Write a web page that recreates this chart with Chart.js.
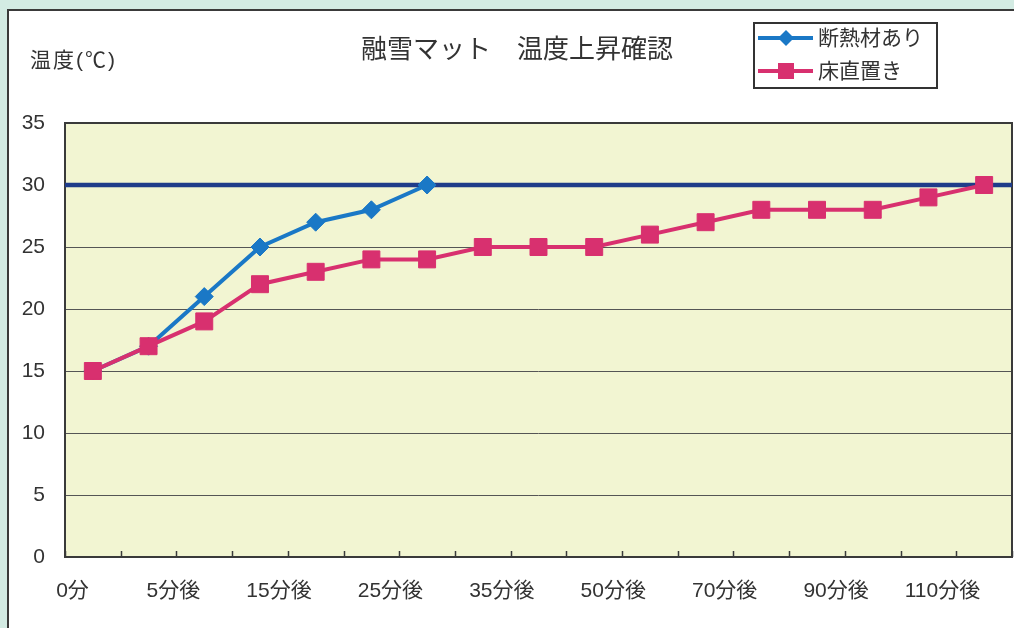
<!DOCTYPE html>
<html><head><meta charset="utf-8">
<script src="https://cdn.jsdelivr.net/npm/chart.js@4.4.0/dist/chart.umd.min.js"></script>
<style>html,body{margin:0;padding:0;background:#d3ebe3;overflow:hidden}#wrap{position:relative;width:1014px;height:628px;overflow:hidden}canvas{display:block}</style>
</head><body><div id="wrap"><canvas id="c" width="1025" height="628"></canvas></div>
<script>
const categories = ['0分','3分後','5分後','10分後','15分後','20分後','25分後','30分後','35分後','40分後','50分後','60分後','70分後','80分後','90分後','100分後','110分後'];
const insulated = [15,17,21,25,27,28,30,null,null,null,null,null,null,null,null,null,null];
const onFloor = [15,17,19,22,23,24,24,25,25,25,26,27,28,28,28,29,30];
const seriesNames = ['断熱材あり','床直置き'];
const targetLine = [30];
const yRange = [0,35,5];
const chartTitle = '融雪マット　温度上昇確認';
const yTitle = '温度(℃)';

const BLUE = '#1a78c6', PINK = '#d8306f', NAVY = '#1f3c8a', TXT = '#333333';
const FONT = "'Liberation Sans','Noto Sans CJK JP',sans-serif";

const deco = {
  id: 'deco',
  beforeDraw(chart) {
    const {ctx, chartArea: a} = chart;
    ctx.save();
    ctx.fillStyle = '#d3ebe3';
    ctx.fillRect(0, 0, chart.width, chart.height);
    ctx.fillStyle = '#ffffff';
    ctx.fillRect(8, 10, 1200, 800);
    ctx.strokeStyle = '#3a3a3a'; ctx.lineWidth = 2;
    ctx.strokeRect(8, 10, 1200, 800);
    ctx.fillStyle = '#f2f5d2';
    ctx.fillRect(a.left, a.top, a.right - a.left, a.bottom - a.top);
    ctx.restore();
  },
  beforeDatasetsDraw(chart) {
    const {ctx, chartArea: a, scales} = chart;
    ctx.save();
    ctx.strokeStyle = '#3a3a3a'; ctx.lineWidth = 2;
    ctx.strokeRect(a.left, a.top, a.right - a.left, a.bottom - a.top);
    ctx.lineWidth = 1.5;
    for (let k = 0; k <= categories.length; k++) {
      const x = Math.round(scales.x.getPixelForValue(k - 0.5)) + 0.5;
      ctx.beginPath(); ctx.moveTo(x, a.bottom); ctx.lineTo(x, a.bottom - 6); ctx.stroke();
    }
    const y = scales.y.getPixelForValue(targetLine[0]);
    ctx.strokeStyle = NAVY; ctx.lineWidth = 4.5;
    ctx.beginPath(); ctx.moveTo(a.left, y); ctx.lineTo(a.right, y); ctx.stroke();
    ctx.restore();
  },
  afterDraw(chart) {
    const {ctx} = chart;
    ctx.save();
    ctx.fillStyle = TXT;
    ctx.textBaseline = 'middle';
    ctx.font = "26px " + FONT;
    ctx.textAlign = 'center';
    ctx.fillText(chartTitle, 517, 51);
    ctx.font = "21px " + FONT;
    ctx.textAlign = 'left';
    try { ctx.letterSpacing = '2px'; } catch (e) {}
    ctx.fillText(yTitle, 30, 61);
    try { ctx.letterSpacing = '0px'; } catch (e) {}
    ctx.strokeStyle = '#333'; ctx.lineWidth = 2;
    ctx.strokeRect(754, 23, 183, 65);
    const rows = [{y: 38, c: BLUE, s: 'diamond'}, {y: 71, c: PINK, s: 'square'}];
    rows.forEach((r, i) => {
      ctx.strokeStyle = r.c; ctx.lineWidth = 4;
      ctx.beginPath(); ctx.moveTo(758, r.y); ctx.lineTo(813, r.y); ctx.stroke();
      ctx.fillStyle = r.c;
      if (r.s === 'diamond') {
        ctx.beginPath(); ctx.moveTo(786 - 8, r.y); ctx.lineTo(786, r.y - 8); ctx.lineTo(786 + 8, r.y); ctx.lineTo(786, r.y + 8); ctx.closePath(); ctx.fill();
      } else {
        ctx.fillRect(786 - 8, r.y - 8, 16, 16);
      }
      ctx.fillStyle = TXT;
      ctx.font = "21px " + FONT;
      ctx.textAlign = 'left';
      ctx.fillText(seriesNames[i], 818, r.y + 1);
    });
    ctx.restore();
  }
};

new Chart(document.getElementById('c'), {
  type: 'line',
  data: {
    labels: categories,
    datasets: [
      {label: seriesNames[0], data: insulated, borderColor: BLUE, backgroundColor: BLUE, borderWidth: 4,
       pointStyle: 'rectRot', pointRadius: 9, pointBorderWidth: 1, pointBorderColor: BLUE, tension: 0, order: 1, spanGaps: false},
      {label: seriesNames[1], data: onFloor, borderColor: PINK, backgroundColor: PINK, borderWidth: 4,
       pointStyle: 'rect', pointRadius: 12, pointBorderWidth: 1, pointBorderColor: PINK, tension: 0, order: 0}
    ]
  },
  options: {
    responsive: false, animation: false, devicePixelRatio: 1,
    layout: {padding: {top: 123, right: 0, bottom: 0, left: 0}},
    plugins: {legend: {display: false}, title: {display: false}, tooltip: {enabled: false}},
    scales: {
      x: {
        offset: true,
        grid: {display: false, drawTicks: false},
        border: {display: false},
        ticks: {autoSkip: false, maxRotation: 0, minRotation: 0, align: 'end', padding: 22, labelOffset: -4, color: TXT,
                font: {size: 21, family: FONT},
                callback: (v, i) => i % 2 === 0 ? categories[i] : ''},
        afterFit: s => { s.height = 71; s.paddingLeft = 0; s.paddingRight = 0; }
      },
      y: {
        min: yRange[0], max: yRange[1],
        grid: {color: '#555555', lineWidth: 1, drawTicks: false},
        border: {display: false},
        ticks: {stepSize: yRange[2], padding: 20, color: TXT, font: {size: 21, family: FONT}},
        afterFit: s => { s.width = 65; s.paddingTop = 0; s.paddingBottom = 0; }
      }
    }
  },
  plugins: [deco]
});
</script>
</body></html>
